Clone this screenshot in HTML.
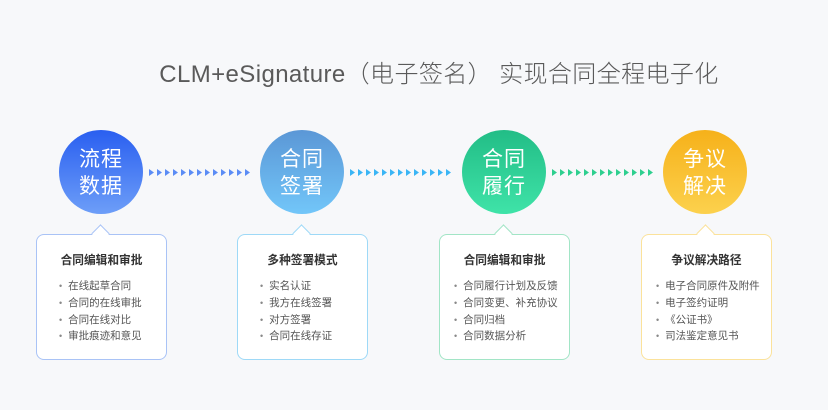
<!DOCTYPE html><html><head><meta charset="utf-8"><style>
body{margin:0;width:828px;height:410px;background:#f7f8fa;position:relative;overflow:hidden;font-family:"Liberation Sans","Noto Sans CJK SC",sans-serif}
.t{position:absolute;left:0;width:878px;top:54px;text-align:center;font-size:24px;color:#5a5a5a;font-weight:300;letter-spacing:0.4px}
.c{position:absolute;top:130px;width:84px;height:84px;border-radius:50%;color:#fff;font-size:21px;line-height:27px;text-align:center;box-sizing:border-box;padding-top:16px;letter-spacing:1px}
.b{position:absolute;top:234px;width:131px;height:126px;box-sizing:border-box;border:1.5px solid;border-radius:8px;background:#fff}
.b h4{margin:0;position:absolute;top:16px;width:100%;text-align:center;font-size:11.7px;font-weight:bold;color:#333}
.b ul{list-style:none;margin:0;padding:0;position:absolute;top:43px;left:22px;font-size:10.5px;color:#555;line-height:16.8px}
.b li:before{content:"•";color:#888;margin-right:6px;font-size:9px}
.n{position:absolute;top:-8px;left:57px;width:12px;height:12px;background:#fff;border-left:1.5px solid;border-top:1.5px solid;border-color:inherit;transform:rotate(45deg)}
svg.a{position:absolute;top:169px;width:110px;height:7px}
</style></head><body>
<div class="t">CLM+eSignature（电子签名） 实现合同全程电子化</div>
<div class="c" style="left:59px;background:linear-gradient(#2a5ff0,#6d9ef8)">流程<br>数据</div>
<div class="c" style="left:260px;background:linear-gradient(#5b97d6,#72c6f9)">合同<br>签署</div>
<div class="c" style="left:462px;background:linear-gradient(#22bd86,#3fe3a8)">合同<br>履行</div>
<div class="c" style="left:663px;background:linear-gradient(#f6b11a,#fcd14d)">争议<br>解决</div>
<svg class="a" style="left:149px" viewBox="0 0 110 7"><g fill="#5b8cf5" id="g1"><path d="M0 0L5 3.5L0 7Z"/><path d="M8 0L13 3.5L8 7Z"/><path d="M16 0L21 3.5L16 7Z"/><path d="M24 0L29 3.5L24 7Z"/><path d="M32 0L37 3.5L32 7Z"/><path d="M40 0L45 3.5L40 7Z"/><path d="M48 0L53 3.5L48 7Z"/><path d="M56 0L61 3.5L56 7Z"/><path d="M64 0L69 3.5L64 7Z"/><path d="M72 0L77 3.5L72 7Z"/><path d="M80 0L85 3.5L80 7Z"/><path d="M88 0L93 3.5L88 7Z"/><path d="M96 0L101 3.5L96 7Z"/></g></svg>
<svg class="a" style="left:350px" viewBox="0 0 110 7"><g fill="#3ab5f5"><path d="M0 0L5 3.5L0 7Z"/><path d="M8 0L13 3.5L8 7Z"/><path d="M16 0L21 3.5L16 7Z"/><path d="M24 0L29 3.5L24 7Z"/><path d="M32 0L37 3.5L32 7Z"/><path d="M40 0L45 3.5L40 7Z"/><path d="M48 0L53 3.5L48 7Z"/><path d="M56 0L61 3.5L56 7Z"/><path d="M64 0L69 3.5L64 7Z"/><path d="M72 0L77 3.5L72 7Z"/><path d="M80 0L85 3.5L80 7Z"/><path d="M88 0L93 3.5L88 7Z"/><path d="M96 0L101 3.5L96 7Z"/></g></svg>
<svg class="a" style="left:552px" viewBox="0 0 110 7"><g fill="#2ecf8f"><path d="M0 0L5 3.5L0 7Z"/><path d="M8 0L13 3.5L8 7Z"/><path d="M16 0L21 3.5L16 7Z"/><path d="M24 0L29 3.5L24 7Z"/><path d="M32 0L37 3.5L32 7Z"/><path d="M40 0L45 3.5L40 7Z"/><path d="M48 0L53 3.5L48 7Z"/><path d="M56 0L61 3.5L56 7Z"/><path d="M64 0L69 3.5L64 7Z"/><path d="M72 0L77 3.5L72 7Z"/><path d="M80 0L85 3.5L80 7Z"/><path d="M88 0L93 3.5L88 7Z"/><path d="M96 0L101 3.5L96 7Z"/></g></svg>
<div class="b" style="left:36px;border-color:#a9c3f6"><div class="n"></div><h4>合同编辑和审批</h4><ul><li>在线起草合同</li><li>合同的在线审批</li><li>合同在线对比</li><li>审批痕迹和意见</li></ul></div>
<div class="b" style="left:237px;border-color:#9ed9f7"><div class="n"></div><h4>多种签署模式</h4><ul><li>实名认证</li><li>我方在线签署</li><li>对方签署</li><li>合同在线存证</li></ul></div>
<div class="b" style="left:439px;border-color:#a2e5c6"><div class="n"></div><h4>合同编辑和审批</h4><ul style="left:14px"><li>合同履行计划及反馈</li><li>合同变更、补充协议</li><li>合同归档</li><li>合同数据分析</li></ul></div>
<div class="b" style="left:641px;border-color:#fbe29b"><div class="n"></div><h4>争议解决路径</h4><ul style="left:14px"><li>电子合同原件及附件</li><li>电子签约证明</li><li>《公证书》</li><li>司法鉴定意见书</li></ul></div>
</body></html>
